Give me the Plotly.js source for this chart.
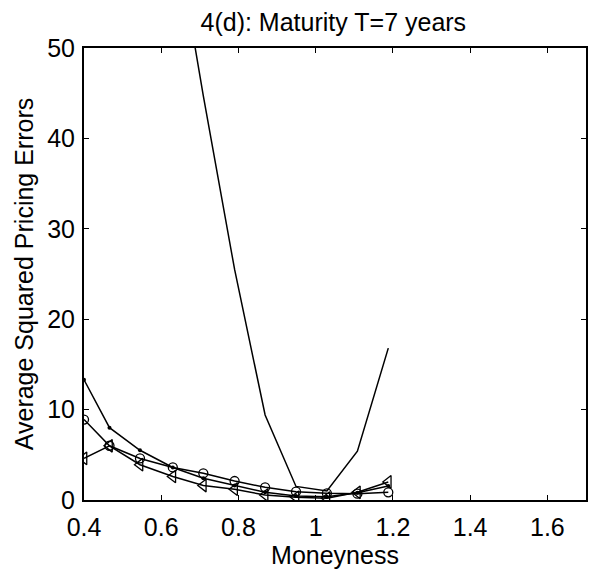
<!DOCTYPE html>
<html>
<head>
<meta charset="utf-8">
<script src="https://cdn.plot.ly/plotly-3.0.1.min.js"></script>
<style>html,body{margin:0;padding:0;background:#fff;}</style>
</head>
<body>
<div id="chart" style="width:591px;height:575px;"></div>
<script>
const moneyness = [0.40, 0.466, 0.545, 0.630, 0.709, 0.790, 0.869, 0.949, 1.029, 1.108, 1.188];
const moneynessU = [0.630, 0.709, 0.790, 0.869, 0.949, 1.029, 1.108, 1.188];
const errU = [64.6, 44.7, 25.5, 9.4, 1.5, 1.0, 5.4, 16.8];
const errDot = [13.3, 8.0, 5.5, 3.6, 2.4, 1.6, 0.85, 0.45, 0.35, 0.8, 1.55];
const errCircle = [8.9, 6.0, 4.6, 3.6, 2.95, 2.1, 1.4, 0.92, 0.74, 0.7, 0.85];
const errTriangle = [4.6, 6.0, 3.9, 2.6, 1.6, 1.2, 0.55, 0.3, 0.2, 0.85, 2.0];
const xTicks = [0.4, 0.6, 0.8, 1, 1.2, 1.4, 1.6];
const yTicks = [0, 10, 20, 30, 40, 50];

const FONT = 'Liberation Sans, Arial, sans-serif';
const FS = 25;
const line = {color: '#000', width: 1.5};

const traces = [
  {x: moneynessU, y: errU, mode: 'lines', line: line},
  {x: moneyness, y: errDot, mode: 'lines+markers', line: line,
   marker: {symbol: 'circle', size: 4, color: '#000'}},
  {x: moneyness, y: errCircle, mode: 'lines+markers', line: line,
   marker: {symbol: 'circle-open', size: 9, color: '#000', line: {width: 1.3, color: '#000'}}},
  {x: moneyness, y: errTriangle, mode: 'lines+markers', line: line,
   marker: {symbol: 'triangle-left-open', size: 11, color: '#000', line: {width: 1.3, color: '#000'}}}
];

const axisCommon = {
  showline: true, linecolor: '#000', linewidth: 2, mirror: 'ticks',
  ticks: 'inside', ticklen: 5, tickwidth: 1, tickcolor: '#000',
  showgrid: false, zeroline: false,
  tickfont: {family: FONT, size: FS, color: '#000'}
};

const layout = {
  width: 591, height: 575,
  margin: {l: 84, r: 5, t: 48, b: 75},
  paper_bgcolor: '#fff', plot_bgcolor: '#fff',
  showlegend: false,
  font: {family: FONT, color: '#000'},
  title: {text: '4(d): Maturity T=7 years', font: {family: FONT, size: FS, color: '#000'},
          x: 0.564, xanchor: 'center', y: 0.962, yanchor: 'middle'},
  xaxis: Object.assign({}, axisCommon, {
    range: [0.4, 1.7], tickvals: xTicks, ticktext: xTicks.map(String),
    ticklabelstandoff: 4,
    title: {text: 'Moneyness', font: {family: FONT, size: FS, color: '#000'}, standoff: 4}
  }),
  yaxis: Object.assign({}, axisCommon, {
    range: [0, 50], tickvals: yTicks, ticktext: yTicks.map(String),
    ticklabelstandoff: 2,
    title: {text: 'Average Squared Pricing Errors', font: {family: FONT, size: FS, color: '#000'}, standoff: 6}
  })
};

Plotly.newPlot('chart', traces, layout, {staticPlot: true, displayModeBar: false});
</script>
</body>
</html>
